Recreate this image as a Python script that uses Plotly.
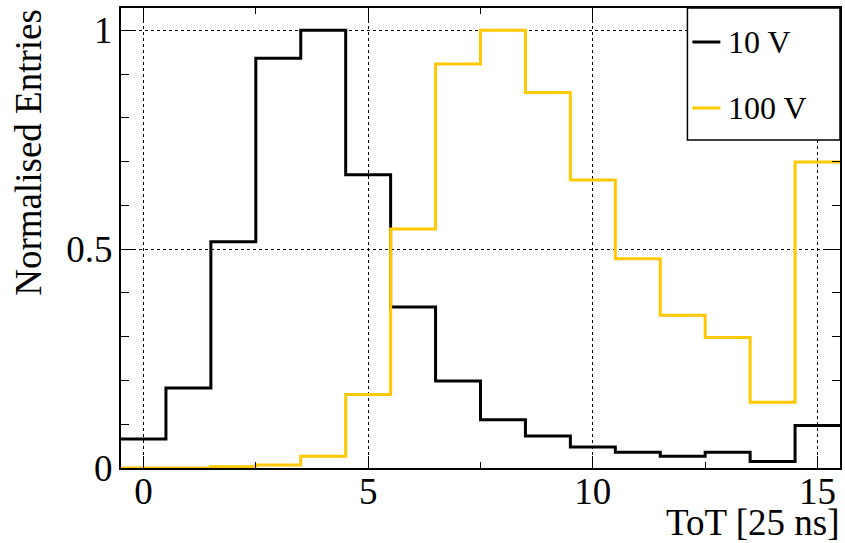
import plotly.graph_objects as go

# Data
bin_centers = list(range(16))
v10 = [0.066, 0.183, 0.517, 0.936, 1.0, 0.670, 0.368, 0.199, 0.110, 0.073,
       0.048, 0.036, 0.027, 0.036, 0.015, 0.097]
v100 = [0.0, 0.0, 0.003, 0.007, 0.027, 0.168, 0.546, 0.923, 1.0, 0.858,
        0.658, 0.478, 0.349, 0.298, 0.150, 0.699]
series_names = ["10 V", "100 V"]
series_colors = ["#000000", "#FFC800"]
x_ticks = [0, 5, 10, 15]
y_ticks = [0, 0.5, 1]
y_ticklabels = ["0", "0.5", "1"]

FONT = "Liberation Serif, Times New Roman, serif"


def step(vals):
    edges = [c - 0.5 for c in bin_centers] + [bin_centers[-1] + 0.5]
    ys = list(vals) + [vals[-1]]
    return edges, ys


fig = go.Figure()
for vals, name, col in zip([v10, v100], series_names, series_colors):
    xs, ys = step(vals)
    fig.add_trace(go.Scatter(x=xs, y=ys, mode="lines", line_shape="hv",
                             line=dict(color=col, width=3), name=name,
                             showlegend=False, cliponaxis=True))

L, R, T, B = 121, 3, 8, 75
W, H = 845, 543
pw, ph = W - L - R, H - T - B


def px_x(p):
    return (p - L) / pw


def px_y(p):
    return (H - B - p) / ph


axis_common = dict(showline=True, linecolor="black", linewidth=2, mirror="allticks",
                   ticks="inside", tickcolor="black", tickwidth=1,
                   showgrid=True, gridcolor="black", griddash="dot", gridwidth=1,
                   zeroline=False, tickfont=dict(family=FONT, size=37, color="black"))

fig.update_layout(
    width=W, height=H,
    margin=dict(l=L, r=R, t=T, b=B),
    paper_bgcolor="white", plot_bgcolor="white",
    xaxis=dict(range=[-0.5, 15.5], tickvals=x_ticks, ticklen=12,
               minor=dict(tickvals=[2.5, 7.5, 12.5], ticklen=6, ticks="inside",
                          tickcolor="black", showgrid=False),
               ticklabelstandoff=-10, **axis_common),
    yaxis=dict(range=[0, 1.051], tickvals=y_ticks, ticktext=y_ticklabels, ticklen=15,
               minor=dict(dtick=0.1, ticklen=8, ticks="inside", tickcolor="black",
                          showgrid=False),
               ticklabelstandoff=-1, **axis_common),
)

# Axis titles
fig.add_annotation(text="ToT [25 ns]", xref="paper", yref="paper",
                   x=1.0 + 2 / pw, xanchor="right", y=px_y(522), yanchor="middle",
                   showarrow=False, font=dict(family=FONT, size=37, color="black"))
fig.add_annotation(text="Normalised Entries", xref="paper", yref="paper",
                   x=px_x(28), xanchor="center", y=px_y(7), yanchor="top",
                   textangle=-90, showarrow=False,
                   font=dict(family=FONT, size=37, color="black"))

# Legend box
fig.add_shape(type="rect", xref="paper", yref="paper",
              x0=px_x(689), x1=1.0, y0=px_y(140), y1=1.0,
              line=dict(color="black", width=1.5), fillcolor="white", layer="above")
for i, (name, col) in enumerate(zip(series_names, series_colors)):
    yy = px_y(42 + 66 * i)
    fig.add_shape(type="line", xref="paper", yref="paper",
                  x0=px_x(694), x1=px_x(722), y0=yy, y1=yy,
                  line=dict(color=col, width=3), layer="above")
    fig.add_annotation(text=name, xref="paper", yref="paper",
                       x=px_x(728), xanchor="left", y=yy, yanchor="middle",
                       showarrow=False, font=dict(family=FONT, size=32, color="black"))

fig.write_html("out.html")
